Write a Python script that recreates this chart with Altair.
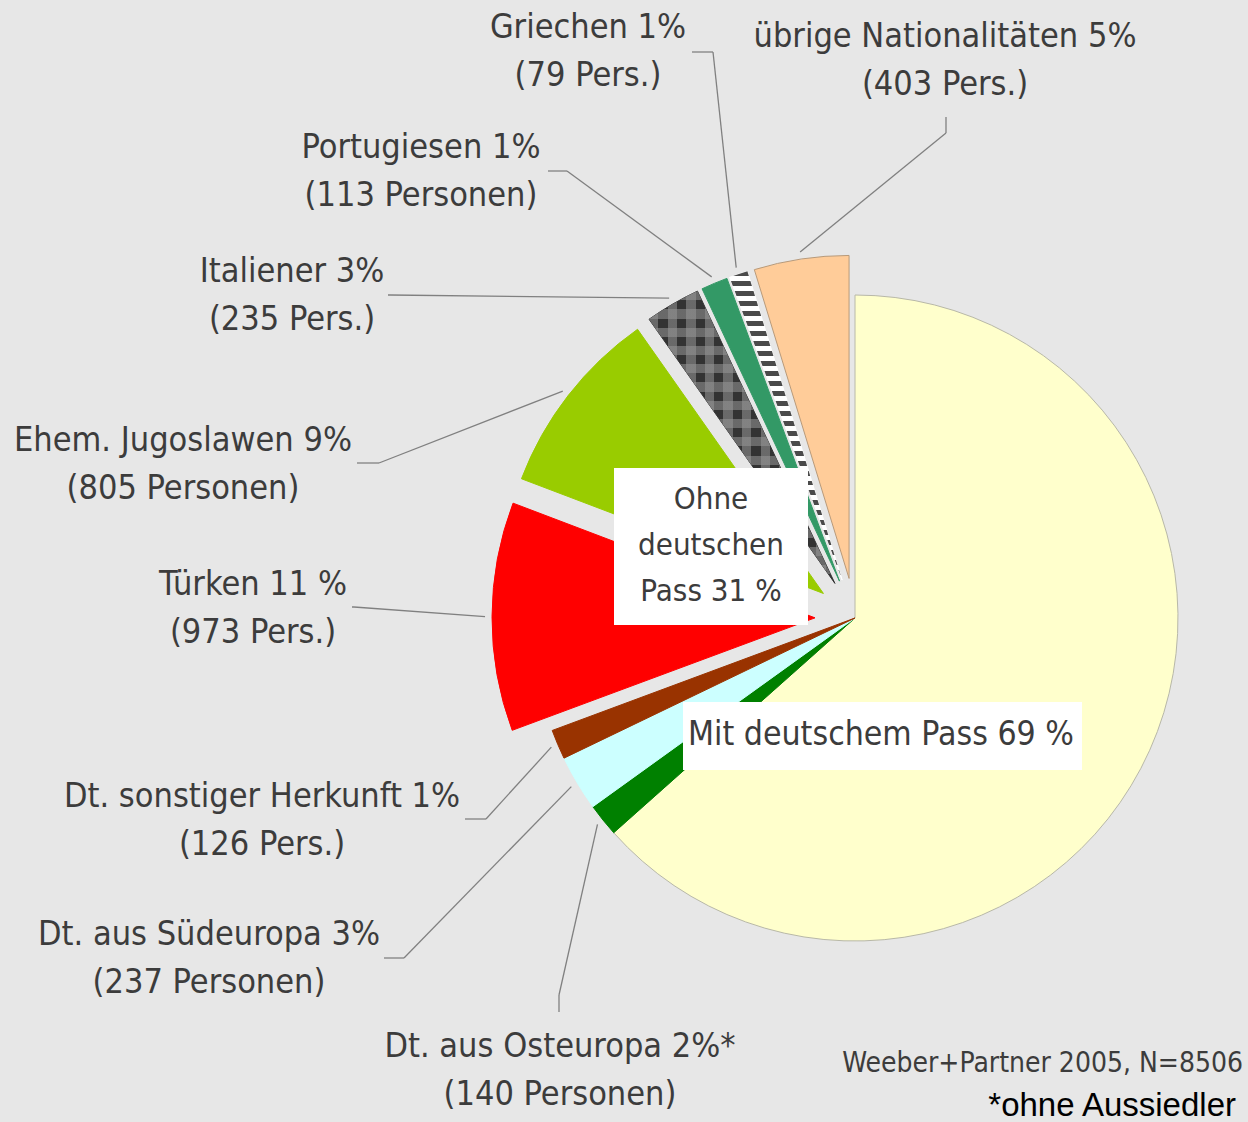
import altair as alt
import pandas as pd

# ---------------- data ----------------
names = ["Deutsche", "Dt. aus Osteuropa", "Dt. aus Südeuropa", "Dt. sonstiger Herkunft",
         "Türken", "Ehem. Jugoslawen", "Italiener", "Portugiesen", "Griechen",
         "übrige Nationalitäten"]
persons = [5395, 140, 237, 126, 973, 805, 235, 113, 79, 403]
exploded = [0, 0, 0, 0, 1, 1, 1, 1, 1, 1]

label_line1 = ["", "Dt. aus Osteuropa 2%*", "Dt. aus Südeuropa 3%", "Dt. sonstiger Herkunft 1%",
               "Türken 11 %", "Ehem. Jugoslawen 9%", "Italiener 3%", "Portugiesen 1%",
               "Griechen 1%", "übrige Nationalitäten 5%"]
label_line2 = ["", "(140 Personen)", "(237 Personen)", "(126 Pers.)", "(973 Pers.)",
               "(805 Personen)", "(235 Pers.)", "(113 Personen)", "(79 Pers.)", "(403 Pers.)"]

# ---------------- styles / layout ----------------
fill_colors = ["#FFFFCC", "#008000", "#CCFFFF", "#993300", "#FF0000", "#99CC00",
               "#333333", "#339966", "#FFFFFF", "#FFCC99"]
stroke_colors = ["#b8b8a8", "#008000", "#CCFFFF", "#993300", "#FF0000", "#99CC00",
                 "#333333", "#339966", "#FFFFFF", "#b89a7a"]

# label anchor (centre of first line) and leader-line stub, in pixels
label_x = [0, 560, 209, 262, 253, 183, 292, 421, 588, 945]
label_y = [0, 1047, 935, 797, 585, 441, 272, 148, 28, 37]
stub_x1 = [0, 559, 384, 465, 352, 357, 388, 548, 692, 946]
stub_y1 = [0, 1012, 958, 819, 607, 463, 295, 171, 52, 117]
stub_x2 = [0, 559, 404, 486, 354, 379, 390, 567, 713, 946]
stub_y2 = [0, 995, 958, 819, 607, 463, 295, 171, 52, 133]

CX, CY, R, EXPLODE, R_LEADER = 855, 618, 323, 40, 330
FONT = "DejaVu Sans Condensed"
TEXT_COLOR = "#3c3c3c"
BG = "#e7e7e7"
W, H = 1248, 1122

df = pd.DataFrame({
    "name": names, "persons": persons, "exploded": exploded, "idx": list(range(len(names))),
    "line1": label_line1, "line2": label_line2,
    "lx": label_x, "ly": label_y,
    "sx1": stub_x1, "sy1": stub_y1, "sx2": stub_x2, "sy2": stub_y2,
})

base = (
    alt.Chart(df)
    .transform_window(cum="sum(persons)", sort=[alt.SortField("idx")])
    .transform_joinaggregate(total="sum(persons)")
    .transform_calculate(a0="2*PI*(datum.cum - datum.persons)/datum.total")
    .transform_calculate(a1="2*PI*datum.cum/datum.total")
    .transform_calculate(amid="(datum.a0 + datum.a1)/2")
    .transform_calculate(cx=f"{CX} + datum.exploded*{EXPLODE}*sin(datum.amid)")
    .transform_calculate(cy=f"{CY} - datum.exploded*{EXPLODE}*cos(datum.amid)")
    .transform_calculate(ex=f"datum.cx + {R_LEADER}*sin(datum.amid)")
    .transform_calculate(ey=f"datum.cy - {R_LEADER}*cos(datum.amid)")
)

pos = dict(
    x=alt.X("cx:Q", scale=None, axis=None),
    y=alt.Y("cy:Q", scale=None, axis=None),
    theta=alt.Theta("a0:Q", scale=None, stack=None),
    theta2="a1:Q",
)

arcs = base.mark_arc(radius=R, strokeWidth=1).encode(
    fill=alt.Fill("name:N", scale=alt.Scale(domain=names, range=fill_colors), legend=None),
    stroke=alt.Stroke("name:N", scale=alt.Scale(domain=names, range=stroke_colors), legend=None),
    **pos,
)


def stripes(n, c1, c2, vertical_bands):
    stops = []
    for i in range(n):
        stops += [
            alt.GradientStop(offset=i / n, color=c1),
            alt.GradientStop(offset=(i + 0.5) / n, color=c1),
            alt.GradientStop(offset=(i + 0.5) / n, color=c2),
            alt.GradientStop(offset=min((i + 1) / n, 1.0), color=c2),
        ]
    if vertical_bands:
        return alt.LinearGradient(gradient="linear", stops=stops, x1=0, y1=0, x2=1, y2=0)
    return alt.LinearGradient(gradient="linear", stops=stops, x1=0, y1=0, x2=0, y2=1)


checker_h = base.mark_arc(radius=R, strokeWidth=0,
                          fill=stripes(16, "rgba(150,150,150,0.55)", "rgba(0,0,0,0)", False)
                          ).encode(**pos).transform_filter(alt.datum.name == "Italiener")
checker_v = base.mark_arc(radius=R, strokeWidth=0,
                          fill=stripes(10, "rgba(150,150,150,0.55)", "rgba(0,0,0,0)", True)
                          ).encode(**pos).transform_filter(alt.datum.name == "Italiener")
greek = base.mark_arc(radius=R, strokeWidth=0,
                      fill=stripes(31, "#4a4a4a", "rgba(0,0,0,0)", False)
                      ).encode(**pos).transform_filter(alt.datum.name == "Griechen")

labelled = base.transform_filter("datum.line1 != ''")

stub = labelled.mark_rule(color="#808080", strokeWidth=1.3).encode(
    x=alt.X("sx1:Q", scale=None, axis=None), y=alt.Y("sy1:Q", scale=None, axis=None),
    x2="sx2:Q", y2="sy2:Q",
)
leader = labelled.mark_rule(color="#808080", strokeWidth=1.3).encode(
    x=alt.X("sx2:Q", scale=None, axis=None), y=alt.Y("sy2:Q", scale=None, axis=None),
    x2="ex:Q", y2="ey:Q",
)

txt_kw = dict(font=FONT, fontSize=34, color=TEXT_COLOR, align="center", baseline="middle")
text1 = labelled.mark_text(**txt_kw).encode(
    x=alt.X("lx:Q", scale=None, axis=None), y=alt.Y("ly:Q", scale=None, axis=None), text="line1:N")
text2 = labelled.mark_text(dy=48, **txt_kw).encode(
    x=alt.X("lx:Q", scale=None, axis=None), y=alt.Y("ly:Q", scale=None, axis=None), text="line2:N")

# annotation boxes
box_text = ["Ohne\ndeutschen\nPass 31 %", "Mit deutschem Pass 69 %"]
boxes = pd.DataFrame({
    "t": box_text,
    "bx1": [614, 683], "bx2": [808, 1082], "by1": [468, 702], "by2": [625, 770],
    "tx": [711, 881], "ty": [485, 719], "fs": [31, 33.5],
})
box_rect = alt.Chart(boxes).mark_rect(fill="white").encode(
    x=alt.X("bx1:Q", scale=None, axis=None), x2="bx2:Q",
    y=alt.Y("by1:Q", scale=None, axis=None), y2="by2:Q",
)
box_label = alt.Chart(boxes).mark_text(
    font=FONT, color=TEXT_COLOR, align="center", baseline="top",
    lineBreak="\n", lineHeight=46,
).encode(
    x=alt.X("tx:Q", scale=None, axis=None), y=alt.Y("ty:Q", scale=None, axis=None), text="t:N",
    size=alt.Size("fs:Q", scale=None, legend=None),
)

notes = pd.DataFrame({
    "t": ["Weeber+Partner 2005, N=8506", "*ohne Aussiedler"],
    "x": [1243, 1236], "y": [1064, 1106],
})
note1 = alt.Chart(notes).transform_filter(alt.datum.y < 1080).mark_text(
    font=FONT, fontSize=28, color=TEXT_COLOR, align="right", baseline="middle"
).encode(x=alt.X("x:Q", scale=None, axis=None), y=alt.Y("y:Q", scale=None, axis=None), text="t:N")
note2 = alt.Chart(notes).transform_filter(alt.datum.y > 1080).mark_text(
    font="Liberation Sans", fontSize=33, color="#000000", align="right", baseline="middle"
).encode(x=alt.X("x:Q", scale=None, axis=None), y=alt.Y("y:Q", scale=None, axis=None), text="t:N")

chart = alt.layer(
    arcs, checker_h, checker_v, greek, stub, leader, text1, text2,
    box_rect, box_label, note1, note2,
).properties(
    width=W, height=H, autosize="none", padding=0, background=BG,
).configure_view(strokeWidth=0)

chart.save("out.html", embed_options={"renderer": "svg", "actions": False})
